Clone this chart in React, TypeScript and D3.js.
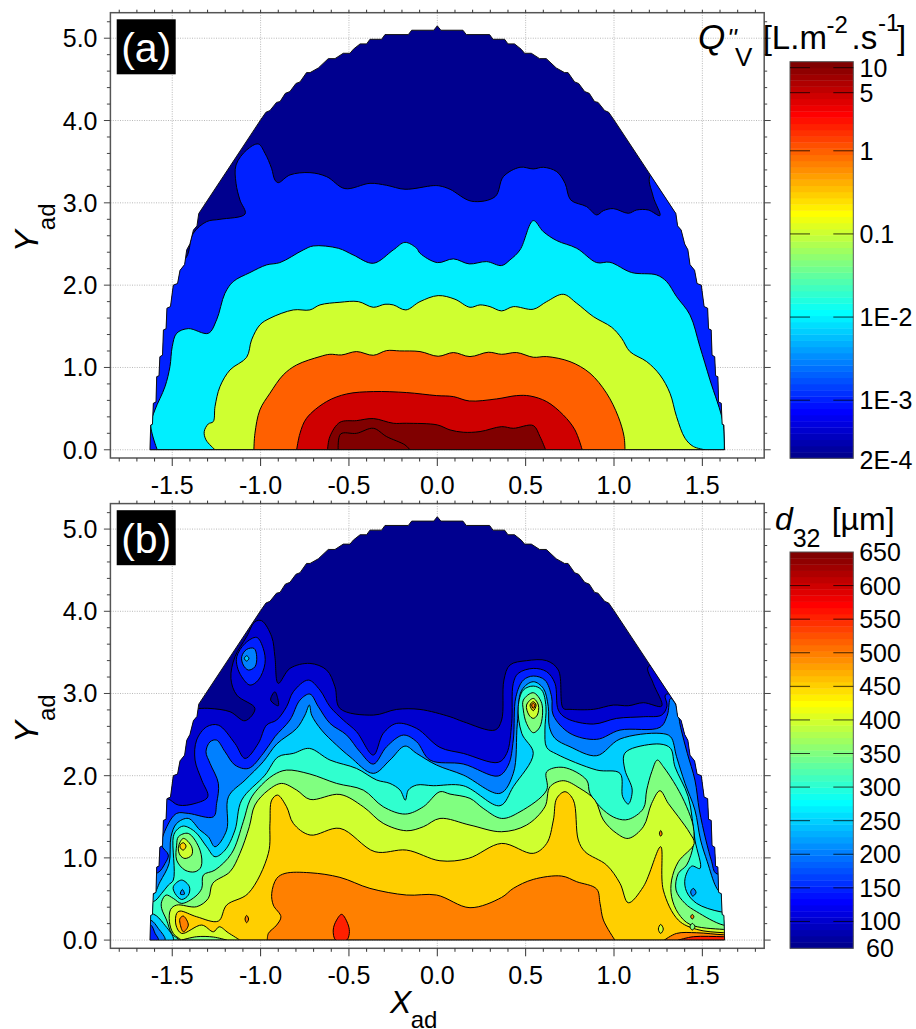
import React from 'react';
import * as d3 from 'd3';

type P = [number, number];

// ---- axes -----
const xTicks = [-1.5, -1.0, -0.5, 0.0, 0.5, 1.0, 1.5];
const xMinor = d3.range(-18, 19).map((v) => v / 10);
const yTicks = [0, 1, 2, 3, 4, 5];
const yMinor = d3.range(0, 27).map((v) => v / 5);

// ---- nozzle spray outline (left half, mirrored for the right) -----
const domeHalf: P[] = [[0,5.15],[-0.02,5.097],[-0.145,5.097],[-0.164,5.044],[-0.296,5.044],[-0.315,4.987],[-0.381,4.987],[-0.40,4.931],[-0.437,4.931],[-0.475,4.866],[-0.494,4.817],[-0.532,4.817],[-0.579,4.752],[-0.617,4.752],[-0.673,4.639],[-0.72,4.582],[-0.74,4.582],[-0.777,4.469],[-0.80,4.45],[-0.834,4.352],[-0.86,4.33],[-0.89,4.23],[-0.91,4.22],[-0.947,4.121],[-0.97,4.10],[-1.0,4.007],[-1.35,2.87],[-1.36,2.72],[-1.38,2.67],[-1.40,2.5],[-1.418,2.43],[-1.43,2.25],[-1.456,2.18],[-1.47,2.02],[-1.494,2.0],[-1.51,1.74],[-1.53,1.72],[-1.535,1.47],[-1.55,1.456],[-1.555,1.15],[-1.57,1.13],[-1.575,0.9],[-1.588,0.888],[-1.592,0.58],[-1.607,0.565],[-1.612,0.31],[-1.622,0.30],[-1.626,0]];

// ---- panel (a) volume flux contours -----
const fluxTicks = [10, 5, 1, 0.1, 0.01, 0.001, 0.0002];
const fluxLabels = ['10', '5', '1', '0.1', '1E-2', '1E-3', '2E-4'];
const fluxBase = 0.0002;
const flux1E3: P[] = [[-1.7,0],[-1.7,2.3],[-1.434,2.306],[-1.381,2.63],[-1.305,2.772],[-1.23,2.80],[-1.088,2.865],[-1.117,3.035],[-1.139,3.237],[-1.139,3.46],[-1.079,3.642],[-1.013,3.715],[-0.975,3.602],[-0.938,3.42],[-0.919,3.278],[-0.90,3.245],[-0.834,3.339],[-0.721,3.367],[-0.626,3.318],[-0.523,3.173],[-0.381,3.237],[-0.287,3.213],[-0.183,3.165],[-0.023,3.209],[0.015,3.205],[0.072,3.165],[0.195,3.019],[0.327,3.075],[0.374,3.318],[0.468,3.432],[0.543,3.412],[0.60,3.432],[0.676,3.379],[0.723,3.237],[0.755,3.035],[0.845,2.954],[0.902,2.853],[0.94,2.905],[0.996,2.93],[1.081,2.873],[1.128,2.913],[1.194,2.913],[1.26,2.845],[1.222,3.075],[1.207,3.339],[1.5,3.3],[1.7,0]];
const flux1E2: P[] = [[-1.585,0],[-1.622,0.302],[-1.598,0.484],[-1.541,0.767],[-1.513,1.01],[-1.50,1.254],[-1.475,1.415],[-1.409,1.472],[-1.296,1.415],[-1.249,1.578],[-1.202,1.90],[-1.155,2.043],[-1.06,2.153],[-0.966,2.246],[-0.891,2.274],[-0.759,2.427],[-0.702,2.476],[-0.56,2.448],[-0.476,2.367],[-0.362,2.266],[-0.249,2.428],[-0.183,2.52],[-0.117,2.448],[-0.098,2.388],[0,2.274],[0.091,2.319],[0.181,2.258],[0.279,2.286],[0.364,2.238],[0.411,2.306],[0.468,2.428],[0.543,2.784],[0.60,2.65],[0.676,2.541],[0.789,2.448],[0.902,2.274],[0.977,2.278],[1.10,2.153],[1.241,2.124],[1.298,2.043],[1.354,1.861],[1.43,1.638],[1.486,1.254],[1.543,0.849],[1.618,0.322],[1.624,0]];
const flux01: P[] = [[-1.258,0],[-1.309,0.12],[-1.319,0.221],[-1.296,0.314],[-1.268,0.342],[-1.258,0.524],[-1.23,0.767],[-1.173,0.97],[-1.079,1.124],[-1.051,1.335],[-1.004,1.517],[-0.947,1.598],[-0.815,1.699],[-0.721,1.699],[-0.664,1.76],[-0.551,1.792],[-0.447,1.80],[-0.362,1.731],[-0.296,1.768],[-0.249,1.76],[-0.178,1.699],[-0.098,1.80],[0.005,1.873],[0.1,1.829],[0.185,1.731],[0.242,1.76],[0.298,1.739],[0.364,1.687],[0.43,1.739],[0.543,1.707],[0.619,1.80],[0.713,1.889],[0.789,1.78],[0.883,1.618],[0.987,1.488],[1.043,1.355],[1.09,1.193],[1.185,1.071],[1.26,0.909],[1.317,0.686],[1.354,0.403],[1.402,0.14],[1.449,0.04],[1.515,0]];
const flux1: P[] = [[-1.038,0],[-1.032,0.2],[-1.004,0.484],[-0.947,0.687],[-0.872,0.909],[-0.796,1.031],[-0.664,1.132],[-0.608,1.16],[-0.542,1.152],[-0.457,1.193],[-0.362,1.148],[-0.287,1.205],[-0.212,1.201],[-0.098,1.193],[0.005,1.136],[0.091,1.181],[0.185,1.132],[0.289,1.185],[0.364,1.16],[0.449,1.181],[0.543,1.124],[0.619,1.132],[0.751,1.071],[0.864,0.93],[0.958,0.687],[1.024,0.403],[1.057,0.16],[1.062,0]];
const flux5: P[] = [[-0.796,0],[-0.777,0.2],[-0.74,0.383],[-0.627,0.585],[-0.513,0.678],[-0.362,0.707],[-0.174,0.695],[-0.004,0.658],[0.091,0.646],[0.181,0.593],[0.336,0.618],[0.449,0.658],[0.524,0.654],[0.619,0.585],[0.713,0.423],[0.779,0.241],[0.82,0]];
const flux10: P[] = [[-0.621,0],[-0.608,0.16],[-0.551,0.334],[-0.457,0.354],[-0.362,0.379],[-0.249,0.322],[-0.174,0.322],[0,0.302],[0.072,0.241],[0.147,0.213],[0.242,0.221],[0.364,0.281],[0.43,0.261],[0.543,0.294],[0.581,0.16],[0.613,0]];
const fluxTop: P[] = [[-0.561,0],[-0.547,0.192],[-0.457,0.2],[-0.362,0.261],[-0.287,0.16],[-0.183,0.059],[-0.155,0]];

// ---- panel (b) SMD contours -----
const smdTicks = [650, 600, 550, 500, 450, 400, 350, 300, 250, 200, 150, 100, 60];
const smdBase = 60;
const d100: P[] = [[-1.7,0],[-1.7,2.8],[-1.352,2.818],[-1.286,2.818],[-1.173,2.778],[-1.088,2.668],[-1.032,2.818],[-1.135,2.981],[-1.168,3.183],[-1.145,3.447],[-1.079,3.69],[-1.032,3.873],[-0.994,3.885],[-0.937,3.69],[-0.919,3.447],[-0.90,3.123],[-0.834,3.305],[-0.721,3.366],[-0.626,3.285],[-0.579,3.082],[-0.551,2.818],[-0.362,2.737],[-0.23,2.806],[-0.098,2.806],[0.072,2.717],[0.147,2.657],[0.327,2.555],[0.364,2.677],[0.377,3.163],[0.411,3.346],[0.505,3.399],[0.619,3.399],[0.685,3.285],[0.713,2.819],[0.751,2.807],[0.883,2.807],[0.996,2.859],[1.081,2.851],[1.166,2.888],[1.27,2.847],[1.222,3.123],[1.194,3.326],[1.5,3.3],[1.7,0]];
const d150: P[] = [[-1.7,0],[-1.7,1.7],[-1.531,1.723],[-1.465,1.642],[-1.371,1.662],[-1.299,1.743],[-1.333,1.946],[-1.371,2.19],[-1.362,2.433],[-1.305,2.595],[-1.239,2.615],[-1.145,2.392],[-1.088,2.21],[-1.013,2.393],[-0.966,2.616],[-0.909,2.677],[-0.853,2.839],[-0.815,3.021],[-0.73,3.163],[-0.664,3.041],[-0.607,2.839],[-0.532,2.677],[-0.457,2.535],[-0.362,2.251],[-0.306,2.514],[-0.23,2.636],[-0.117,2.575],[0.015,2.344],[0.147,2.271],[0.345,2.162],[0.393,2.271],[0.421,2.636],[0.43,3.123],[0.458,3.245],[0.543,3.305],[0.619,3.265],[0.666,3.123],[0.685,2.798],[0.732,2.697],[0.883,2.628],[1.015,2.697],[1.166,2.717],[1.27,2.738],[1.30,2.85],[1.29,2.98],[1.33,3.0],[1.6,3.0],[1.7,0]];
const d200: P[] = [[-1.7,0],[-1.7,0.8],[-1.582,0.819],[-1.541,0.932],[-1.522,1.034],[-1.56,1.155],[-1.531,1.378],[-1.475,1.541],[-1.409,1.541],[-1.267,1.5],[-1.249,1.662],[-1.239,1.906],[-1.286,2.149],[-1.309,2.291],[-1.286,2.412],[-1.249,2.433],[-1.201,2.291],[-1.145,2.129],[-1.069,2.088],[-0.985,2.271],[-0.919,2.474],[-0.834,2.677],[-0.777,2.92],[-0.721,2.993],[-0.673,2.839],[-0.607,2.636],[-0.513,2.494],[-0.438,2.291],[-0.362,2.141],[-0.287,2.352],[-0.192,2.494],[-0.117,2.413],[-0.041,2.19],[0.147,2.142],[0.345,1.996],[0.402,2.129],[0.43,2.434],[0.445,2.96],[0.487,3.163],[0.543,3.212],[0.609,3.163],[0.647,2.96],[0.656,2.738],[0.751,2.515],[0.902,2.442],[1.034,2.555],[1.26,2.588],[1.302,2.738],[1.32,2.94],[1.351,2.86],[1.377,2.588],[1.415,2.271],[1.458,1.947],[1.483,1.582],[1.52,1.217],[1.553,0.953],[1.577,0.811],[1.7,0.8],[1.7,0]];
const d250: P[] = [[-1.7,0],[-1.7,0.55],[-1.612,0.547],[-1.569,0.709],[-1.518,0.932],[-1.507,1.257],[-1.475,1.419],[-1.409,1.48],[-1.343,1.338],[-1.296,1.257],[-1.258,1.135],[-1.192,1.338],[-1.182,1.743],[-1.088,1.946],[-0.985,2.17],[-0.909,2.385],[-0.796,2.575],[-0.749,2.737],[-0.724,2.859],[-0.711,2.737],[-0.655,2.555],[-0.57,2.372],[-0.494,2.23],[-0.362,2.028],[-0.268,2.19],[-0.183,2.36],[-0.117,2.271],[-0.004,2.129],[0.147,2.008],[0.355,1.785],[0.43,2.028],[0.453,2.636],[0.478,3.04],[0.543,3.143],[0.6,3.062],[0.628,2.839],[0.634,2.596],[0.666,2.454],[0.751,2.352],[0.902,2.243],[1.034,2.446],[1.26,2.515],[1.32,2.474],[1.354,2.231],[1.402,1.906],[1.458,1.582],[1.49,1.217],[1.528,0.953],[1.577,0.649],[1.6,0.588],[1.7,0.6],[1.7,0]];
const d300: P[] = [[-1.7,0],[-1.7,0.48],[-1.607,0.467],[-1.56,0.568],[-1.522,0.669],[-1.494,0.73],[-1.494,1.257],[-1.475,1.338],[-1.437,1.387],[-1.371,1.318],[-1.305,1.135],[-1.258,1.014],[-1.201,1.095],[-1.145,1.338],[-1.107,1.703],[-0.975,2.007],[-0.90,2.23],[-0.815,2.271],[-0.724,2.332],[-0.607,2.19],[-0.457,2.088],[-0.343,1.947],[-0.268,1.906],[-0.211,1.825],[-0.181,1.703],[-0.164,1.825],[-0.117,1.886],[-0.023,1.878],[0.147,1.878],[0.355,1.635],[0.43,1.866],[0.543,2.271],[0.478,2.515],[0.458,2.839],[0.487,3.042],[0.543,3.09],[0.591,3.042],[0.615,2.839],[0.609,2.555],[0.619,2.344],[0.675,2.263],[0.902,2.069],[1.034,2.028],[1.049,1.744],[1.081,1.655],[1.103,1.825],[1.062,2.069],[1.056,2.251],[1.09,2.32],[1.26,2.385],[1.32,2.332],[1.345,2.109],[1.42,1.744],[1.458,1.217],[1.487,0.872],[1.44,0.9],[1.402,0.75],[1.411,0.588],[1.468,0.446],[1.6,0.345],[1.7,0.33],[1.7,0]];
const d350: P[] = [[-1.456,0],[-1.503,0.081],[-1.532,0.244],[-1.56,0.385],[-1.56,0.467],[-1.535,0.548],[-1.494,0.507],[-1.447,0.446],[-1.371,0.527],[-1.333,0.629],[-1.324,0.791],[-1.258,0.852],[-1.164,1.055],[-1.098,1.44],[-1.06,1.703],[-1.013,1.845],[-0.928,2.007],[-0.853,2.068],[-0.721,2.02],[-0.57,1.906],[-0.419,1.825],[-0.306,1.622],[-0.181,1.533],[-0.079,1.622],[0.015,1.805],[0.072,1.776],[0.185,1.724],[0.26,1.602],[0.364,1.48],[0.468,1.561],[0.619,1.825],[0.619,2.048],[0.713,2.101],[0.845,1.947],[0.864,1.784],[0.94,1.582],[1.015,1.48],[1.081,1.468],[1.166,1.6],[1.185,1.825],[1.214,2.05],[1.245,2.19],[1.279,2.11],[1.354,1.866],[1.411,1.622],[1.449,1.379],[1.449,1.156],[1.411,0.913],[1.364,0.811],[1.351,0.609],[1.402,0.446],[1.468,0.345],[1.618,0.183],[1.7,0.18],[1.7,0]];
const d400: P[] = [[-1.447,0],[-1.494,0.081],[-1.516,0.223],[-1.509,0.373],[-1.475,0.426],[-1.362,0.406],[-1.296,0.507],[-1.271,0.69],[-1.173,0.832],[-1.117,1.055],[-1.064,1.379],[-1.032,1.643],[-0.956,1.825],[-0.881,1.906],[-0.796,1.825],[-0.72,1.711],[-0.551,1.772],[-0.419,1.622],[-0.306,1.42],[-0.174,1.33],[-0.079,1.379],[0.015,1.48],[0.185,1.399],[0.364,1.318],[0.505,1.399],[0.609,1.622],[0.638,1.866],[0.713,1.939],[0.807,1.846],[0.892,1.703],[0.94,1.46],[1.015,1.298],[1.081,1.237],[1.166,1.379],[1.213,1.663],[1.26,1.817],[1.307,1.663],[1.364,1.501],[1.43,1.298],[1.454,1.176],[1.364,0.953],[1.326,0.73],[1.326,0.527],[1.364,0.325],[1.43,0.19],[1.618,0.13],[1.7,0.13],[1.7,0]];
const d450: P[] = [[-1.117,0],[-1.183,0.089],[-1.234,0.162],[-1.267,0.101],[-1.333,0.183],[-1.447,0.081],[-1.479,0.183],[-1.475,0.325],[-1.456,0.353],[-1.362,0.284],[-1.239,0.231],[-1.192,0.426],[-1.07,0.568],[-0.956,1.055],[-0.947,1.42],[-0.937,1.703],[-0.904,1.764],[-0.853,1.622],[-0.815,1.42],[-0.72,1.278],[-0.551,1.359],[-0.353,1.075],[-0.174,1.095],[0.015,0.965],[0.176,0.994],[0.364,1.176],[0.543,1.055],[0.619,1.176],[0.657,1.46],[0.676,1.724],[0.723,1.805],[0.77,1.703],[0.798,1.217],[0.836,1.075],[0.958,0.913],[1.034,0.69],[1.081,0.454],[1.166,0.649],[1.264,1.136],[1.279,0.608],[1.364,0.243],[1.468,0.13],[1.618,0.09],[1.7,0.09],[1.7,0]];
const d500: P[] = [[-0.962,0],[-0.956,0.081],[-0.909,0.183],[-0.885,0.284],[-0.928,0.426],[-0.937,0.568],[-0.909,0.75],[-0.862,0.811],[-0.72,0.819],[-0.551,0.763],[-0.381,0.629],[-0.174,0.548],[-0.004,0.548],[0.185,0.394],[0.364,0.519],[0.43,0.629],[0.543,0.738],[0.704,0.779],[0.789,0.71],[0.902,0.621],[0.921,0.446],[0.94,0.243],[1.005,0]];
const d550Spot: P[] = [[-0.541,0.313],[-0.504,0.183],[-0.498,0.081],[-0.513,0],[-0.575,0],[-0.589,0.122],[-0.57,0.243]];
// closed peaks
const peakL350: P[] = [[-1.475,1.155],[-1.465,1.257],[-1.409,1.297],[-1.343,1.095],[-1.337,0.892],[-1.371,0.831],[-1.428,0.851],[-1.475,0.973]];
const peakL400: P[] = [[-1.465,1.135],[-1.437,1.237],[-1.39,1.135],[-1.39,1.034],[-1.428,0.993],[-1.456,1.034]];
const peakL450: P[] = [[-1.456,1.155],[-1.437,1.184],[-1.422,1.143],[-1.437,1.095],[-1.452,1.115]];
const topL150: P[] = [[-1.135,3.447],[-1.088,3.609],[-1.022,3.682],[-0.985,3.548],[-0.975,3.366],[-1.013,3.163],[-1.06,3.102],[-1.107,3.204],[-1.132,3.325]];
const topL200: P[] = [[-1.107,3.447],[-1.079,3.536],[-1.037,3.548],[-1.022,3.447],[-1.032,3.325],[-1.069,3.285],[-1.098,3.346]];
const topL250: P[] = [[-1.092,3.427],[-1.079,3.459],[-1.066,3.427],[-1.079,3.394]];
const navyHole: P[] = [[-0.919,3.021],[-0.943,2.92],[-0.9,2.851],[-0.903,2.94]];
const colL350: P[] = [[0.487,2.92],[0.543,3.009],[0.591,2.88],[0.581,2.596],[0.543,2.523],[0.505,2.636],[0.487,2.798]];
const colL400: P[] = [[0.505,2.859],[0.543,2.94],[0.572,2.859],[0.566,2.738],[0.543,2.697],[0.519,2.738]];
const colL450: P[] = [[0.525,2.859],[0.543,2.9],[0.559,2.859],[0.543,2.79]];
const colL500: P[] = [[0.534,2.859],[0.543,2.88],[0.553,2.859],[0.543,2.819]];
const fingerL500: P[] = [[-1.437,0.292],[-1.409,0.182],[-1.437,0.101],[-1.456,0.203],[-1.456,0.263]];
const ovalL500: P[] = [[-1.079,0.30],[-1.068,0.256],[-1.079,0.211],[-1.088,0.256]];
const blobL250: P[] = [[-1.494,0.649],[-1.447,0.73],[-1.403,0.649],[-1.409,0.547],[-1.447,0.494],[-1.484,0.567]];
const blobL200: P[] = [[-1.443,0.616],[-1.431,0.559],[-1.454,0.559]];
const tongueL200: P[] = [[1.449,0.629],[1.464,0.576],[1.445,0.535],[1.434,0.588]];
const rightA: P[] = [[1.264,1.333],[1.272,1.292],[1.264,1.264],[1.257,1.292]];
const rightB: P[] = [[1.264,0.191],[1.279,0.134],[1.264,0.081],[1.251,0.134]];
const rightC: P[] = [[1.443,0.312],[1.452,0.284],[1.443,0.256],[1.434,0.284]];
const rightD: P[] = [[1.443,0.203],[1.458,0.162],[1.443,0.122],[1.43,0.162]];
// baseline patches (open traces closed along y = 0)
const cornerL300: P[] = [[-1.7,0.32],[-1.607,0.317],[-1.55,0.203],[-1.494,0],[-1.7,0]];
const cornerL250: P[] = [[-1.7,0.243],[-1.622,0.243],[-1.579,0.142],[-1.541,0],[-1.7,0]];
const cornerL200: P[] = [[-1.7,0.183],[-1.622,0.183],[-1.597,0.081],[-1.579,0],[-1.7,0]];
const sliverL400: P[] = [[-1.447,0],[-1.362,0.041],[-1.267,0.037],[-1.192,0]];
const edgeL500: P[] = [[1.285,0],[1.354,0.081],[1.468,0.089],[1.618,0.065],[1.7,0.065],[1.7,0]];
const edgeL550: P[] = [[1.364,0],[1.449,0.041],[1.618,0.041],[1.7,0.04],[1.7,0]];

const panelAContours: { level: number; pts: P[]; closed?: boolean }[] = [
  { level: 0.001, pts: flux1E3 }, { level: 0.01, pts: flux1E2 }, { level: 0.1, pts: flux01 },
  { level: 1, pts: flux1 }, { level: 5, pts: flux5 }, { level: 10, pts: flux10 }, { level: 11.8, pts: fluxTop },
];
const panelBContours: { level: number; pts: P[]; closed?: boolean }[] = [
  { level: 100, pts: d100 }, { level: 150, pts: d150 }, { level: 200, pts: d200 }, { level: 250, pts: d250 },
  { level: 300, pts: d300 }, { level: 350, pts: d350 }, { level: 400, pts: d400 }, { level: 450, pts: d450 }, { level: 500, pts: d500 },
  { level: 550, pts: d550Spot, closed: true },
  { level: 150, pts: topL150, closed: true }, { level: 200, pts: topL200, closed: true }, { level: 250, pts: topL250, closed: true },
  { level: 60, pts: navyHole, closed: true },
  { level: 350, pts: peakL350, closed: true }, { level: 400, pts: peakL400, closed: true }, { level: 450, pts: peakL450, closed: true },
  { level: 350, pts: colL350, closed: true }, { level: 400, pts: colL400, closed: true }, { level: 450, pts: colL450, closed: true }, { level: 500, pts: colL500, closed: true },
  { level: 500, pts: fingerL500, closed: true }, { level: 500, pts: ovalL500, closed: true },
  { level: 250, pts: blobL250, closed: true }, { level: 200, pts: blobL200, closed: true }, { level: 200, pts: tongueL200, closed: true },
  { level: 500, pts: rightA, closed: true }, { level: 400, pts: rightB, closed: true }, { level: 500, pts: rightC, closed: true }, { level: 350, pts: rightD, closed: true },
  { level: 250, pts: cornerL300 }, { level: 200, pts: cornerL250 }, { level: 150, pts: cornerL200 },
  { level: 350, pts: sliverL400 }, { level: 500, pts: edgeL500 }, { level: 550, pts: edgeL550 },
];

// ---- colour map (64-step jet) -----
const clamp = (v: number) => Math.max(0, Math.min(1, v));
const jet = (t: number) => {
  const idx = Math.min(63, Math.max(0, Math.floor(t * 64)));
  const T = (idx + 1) / 64;
  const c = (o: number) => Math.round(255 * clamp(1.5 - Math.abs(4 * T - o)));
  return `rgb(${c(3)},${c(2)},${c(1)})`;
};

const FONT = '"Liberation Sans", Arial, sans-serif';
const W = 916, H = 1029;
const xScale = d3.scaleLinear().domain([-1.85, 1.85]).range([110.4, 764.2]);
const barX0 = 790, barX1 = 853.3;

const Panel: React.FC<{
  id: string; top: number; bottom: number; label: string;
  contours: { level: number; pts: P[]; closed?: boolean }[];
  colorOf: (v: number) => string; base: number;
}> = ({ id, top, bottom, label, contours, colorOf, base }) => {
  const y = d3.scaleLinear().domain([-0.1, 5.31]).range([bottom, top]);
  const dome: P[] = [...domeHalf.slice(1).map(([a, b]) => [-a, b] as P).reverse(), ...domeHalf];
  const straight = d3.line<P>().x((p) => xScale(p[0])).y((p) => y(p[1]));
  const open = d3.line<P>().x((p) => xScale(p[0])).y((p) => y(p[1])).curve(d3.curveCatmullRom.alpha(0.5));
  const loop = d3.line<P>().x((p) => xScale(p[0])).y((p) => y(p[1])).curve(d3.curveCatmullRomClosed.alpha(0.5));
  const domePath = straight(dome) + 'Z';
  const xl = xScale.range();
  return (
    <g>
      <defs><clipPath id={id}><path d={domePath} /></clipPath></defs>
      {xTicks.map((t) => <line key={t} x1={xScale(t)} x2={xScale(t)} y1={top} y2={bottom} stroke="#b8b8b8" strokeDasharray="1 1.4" />)}
      {yTicks.map((t) => <line key={t} x1={xl[0]} x2={xl[1]} y1={y(t)} y2={y(t)} stroke="#b8b8b8" strokeDasharray="1 1.4" />)}
      <path d={domePath} fill={colorOf(base)} />
      <g clipPath={`url(#${id})`}>
        {contours.map((c, i) => (
          <path key={i} d={c.closed ? loop(c.pts)! : open(c.pts) + 'Z'} fill={colorOf(c.level)} stroke="#000" strokeWidth={1} strokeLinejoin="round" />
        ))}
      </g>
      <path d={domePath} fill="none" stroke="#111" strokeWidth={1} />
      {/* frame and ticks */}
      <rect x={xl[0]} y={top} width={xl[1] - xl[0]} height={bottom - top} fill="none" stroke="#555" strokeWidth={1.5} />
      {xMinor.map((t) => {
        const major = Math.abs(t * 2 - Math.round(t * 2)) < 1e-6 && Math.abs(t) <= 1.5;
        return (
          <g key={t} stroke="#333" strokeWidth={1}>
            <line x1={xScale(t)} x2={xScale(t)} y1={bottom} y2={bottom + (major ? 8 : 3.5)} />
            <line x1={xScale(t)} x2={xScale(t)} y1={top} y2={top - 3} />
          </g>
        );
      })}
      {yMinor.map((t) => {
        const major = Math.abs(t - Math.round(t)) < 1e-6;
        return (
          <g key={t} stroke="#444" strokeWidth={1}>
            <line x1={xl[0]} x2={xl[0] - (major ? 6.5 : 3.5)} y1={y(t)} y2={y(t)} />
            <line x1={xl[1]} x2={xl[1] + (major ? 6.5 : 3)} y1={y(t)} y2={y(t)} />
          </g>
        );
      })}
      {xTicks.map((t) => (
        <text key={t} x={xScale(t)} y={bottom + 35.7} textAnchor="middle" fontSize={25} fontFamily={FONT}>{d3.format('.1f')(t).replace('−', '-')}</text>
      ))}
      {yTicks.map((t) => (
        <text key={t} x={97.5} y={y(t) + 9} textAnchor="end" fontSize={25} fontFamily={FONT}>{d3.format('.1f')(t)}</text>
      ))}
      <rect x={116.7} y={top + 6.6} width={59} height={55} fill="#000" />
      <text x={146.2} y={top + 49} textAnchor="middle" fontSize={41} fill="#fff" fontFamily={FONT}>{label}</text>
      {/* Y title */}
      <text transform={`translate(38.3,${top + 239.5}) rotate(-90)`} fontSize={33} fontStyle="italic" fontFamily={FONT}>Y</text>
      <text transform={`translate(55,${top + 217.5}) rotate(-90)`} fontSize={24} fontFamily={FONT}>ad</text>
    </g>
  );
};

const ColorBar: React.FC<{
  top: number; bottom: number; t: (v: number) => number; ticks: number[]; tickY: (v: number) => number;
}> = ({ top, bottom, ticks, tickY }) => {
  const bands = d3.range(64);
  const band = d3.scaleBand<number>().domain(bands).range([bottom, top]);
  return (
    <g>
      {bands.map((b) => (
        <rect key={b} x={barX0} y={band(b)!} width={barX1 - barX0} height={band.bandwidth() + 0.4} fill={jet((b + 0.5) / 64)} />
      ))}
      <rect x={barX0} y={top} width={barX1 - barX0} height={bottom - top} fill="none" stroke="#555" strokeWidth={1} />
      {ticks.map((v) => (
        <g key={v} stroke="#000" strokeOpacity={0.75} strokeWidth={1}>
          <line x1={barX0} x2={barX0 + 20} y1={tickY(v)} y2={tickY(v)} />
          <line x1={barX1 - 20} x2={barX1} y1={tickY(v)} y2={tickY(v)} />
        </g>
      ))}
    </g>
  );
};

export default function App() {
  const fluxPos = d3.scaleLog().domain([fluxBase, 11.8]).range([0, 1]);
  const smdPos = d3.scaleLinear().domain([smdBase, 650]).range([0, 1]);
  const fluxY = d3.scaleLog().domain([fluxBase, 11.8]).range([458.3, 61.7]);
  const smdY = d3.scaleLinear().domain([smdBase, 650]).range([948.3, 552]);
  const t: React.CSSProperties = { fontFamily: FONT };
  return (
    <svg width={W} height={H} viewBox={`0 0 ${W} ${H}`} style={{ position: 'fixed', left: 0, top: 0, background: '#fff' }}>
      <Panel id="clipA" top={12.7} bottom={458} label="(a)" contours={panelAContours} colorOf={(v) => jet(fluxPos(v))} base={fluxBase} />
      <Panel id="clipB" top={503.6} bottom={948.3} label="(b)" contours={panelBContours} colorOf={(v) => jet(smdPos(v))} base={smdBase} />

      <ColorBar top={61.7} bottom={458.3} t={(v) => fluxPos(v)} ticks={fluxTicks.slice(0, -1)} tickY={(v) => fluxY(v)} />
      <ColorBar top={552} bottom={948.3} t={(v) => smdPos(v)} ticks={smdTicks.slice(1, -1)} tickY={(v) => smdY(v)} />

      {fluxTicks.map((v, i) => (
        <text key={v} x={859.5} y={fluxY(v) + (i === 6 ? 10.6 : 9)} fontSize={25} style={t}>{fluxLabels[i]}</text>
      ))}
      {smdTicks.map((v) => (
        <text key={v} x={880} y={smdY(v) + 9} textAnchor="middle" fontSize={25} style={t}>{v}</text>
      ))}

      {/* colour bar titles */}
      <g style={t}>
        <text x={698} y={49} fontSize={35} fontStyle="italic">Q</text>
        <text x={727} y={47} fontSize={26} fontStyle="italic">''</text>
        <text x={735} y={65.7} fontSize={26}>V</text>
        <text x={762.7} y={49.3} fontSize={33}>[L.m</text>
        <text x={826.5} y={33.3} fontSize={24}>-2</text>
        <text x={851.5} y={49.3} fontSize={33}>.s</text>
        <text x={878} y={31} fontSize={24}>-1</text>
        <text x={897} y={49.3} fontSize={33}>]</text>

        <text x={775} y={530} fontSize={32} fontStyle="italic">d</text>
        <text x={792.7} y={546.7} fontSize={25}>32</text>
        <text x={831.7} y={530} fontSize={32}>[µm]</text>
      </g>

      {/* X title */}
      <g style={t}>
        <text x={390} y={1013.3} fontSize={32} fontStyle="italic">X</text>
        <text x={410.7} y={1028} fontSize={24}>ad</text>
      </g>
    </svg>
  );
}
